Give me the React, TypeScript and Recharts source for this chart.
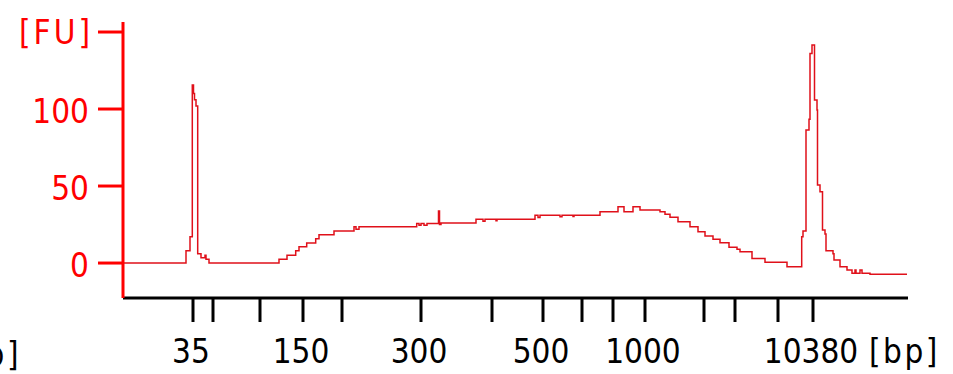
import React from 'react';
import { LineChart, Line, XAxis, YAxis, Label } from 'recharts';

// ladder peaks: size (bp) and migration time (s)
const ladderBp = [35, 50, 100, 150, 200, 300, 400, 500, 600, 700, 1000, 2000, 3000, 7000, 10380];
const ladderTime = [42.0, 44.0, 48.7, 53.0, 56.9, 64.8, 71.9, 77.0, 80.9, 84.0, 87.2, 93.1, 96.2, 100.5, 104.0];
const labeledBp = [35, 150, 300, 500, 1000, 10380];

const fuTicks = [0, 50, 100, 150];

// electropherogram trace (migration time s, fluorescence FU)
const time = [
  35.0, 41.3, 41.7, 41.93, 42.05, 42.15, 42.3, 42.47, 42.8, 43.2, 43.3, 43.6,
  50.6, 51.4, 52.27, 52.6, 53.37, 54.27, 54.6, 56.1, 58.1, 58.3, 58.6,
  64.37, 64.6, 64.8, 65.1, 65.4, 66.55, 66.65, 66.8,
  70.3, 71.0, 71.2, 72.3, 72.4, 76.2, 76.5, 76.7, 78.7, 78.9, 80.0, 80.1,
  82.7, 84.5, 85.1, 86.0, 86.7, 88.7, 89.2, 89.7, 90.5, 91.7, 92.5, 93.2, 94.0,
  94.7, 95.6, 96.4, 96.7, 97.9, 99.2, 101.4,
  102.87, 103.0, 103.3, 103.6, 103.7, 103.9, 104.15, 104.4, 104.45, 104.7, 104.95, 105.2, 105.3,
  106.0, 106.1, 106.7, 107.4, 107.9, 108.2, 108.3, 108.7, 108.9, 109.7, 113.4,
];
const fu = [
  0, 8, 17, 115.6, 110, 106, 102, 6, 3.5, 5, 2.5, 0,
  2.5, 5, 8, 10.5, 13, 15.8, 18.4, 20.8, 23.6, 22, 23.6,
  25.7, 24.5, 25.7, 24.5, 25.7, 33.8, 25, 26,
  28.4, 27.2, 28.4, 27.5, 28.4, 31, 29.5, 31, 30, 31, 30.2, 31,
  33.3, 36.6, 33.3, 36.6, 34.5, 33.3, 31.6, 29.7, 26.8, 23.6, 20.3, 17.5, 15.4,
  13.2, 10.2, 9, 7.3, 3, 0.5, -2.4,
  17, 20.8, 86.4, 93.3, 136, 141.6, 105.8, 99.4, 50.6, 46.3, 21.4, 18.8, 8,
  6, 2, -2.4, -4.5, -6.7, -4.5, -6.7, -4.5, -6.7, -7.3, -7.3,
];

const data = time.map((t, i) => ({ t, fu: fu[i] }));

const FONT = '"DejaVu Sans Condensed", "DejaVu Sans", Verdana, sans-serif';
const FS = 33;
const textStyle = { fontStretch: 'condensed' as const };

const XTick = (props: any) => {
  const { x, y, payload } = props;
  const i = ladderTime.indexOf(payload.value);
  const bp = ladderBp[i];
  if (!labeledBp.includes(bp)) return <g />;
  const last = i === ladderTime.length - 1;
  return (
    <g>
      <text x={x - 2} y={y + 41} textAnchor="middle" fill="#000" fontSize={FS} fontFamily={FONT} style={textStyle}>
        {bp}
      </text>
      {last && (
        <text x={x + 56} y={y + 41} textAnchor="start" fill="#000" fontSize={FS} fontFamily={FONT} style={textStyle} letterSpacing={2.5}>
          [bp]
        </text>
      )}
    </g>
  );
};

const YTick = (props: any) => {
  const { x, y, payload } = props;
  const top = payload.value === 150;
  return (
    <text
      x={top ? x + 4 : x}
      y={y + (top ? 12 : 14)}
      textAnchor="end"
      fill="#ff0000"
      fontSize={FS}
      fontFamily={FONT}
      style={textStyle}
      letterSpacing={top ? 3 : 0}
    >
      {top ? '[FU]' : payload.value}
    </text>
  );
};

export default function App() {
  return (
    <div style={{ position: 'absolute', left: 0, top: 0, background: '#fff' }}>
      <LineChart width={953} height={374} data={data} margin={{ top: 22, right: 45, left: 0, bottom: 0 }}>
        <XAxis
          dataKey="t"
          type="number"
          domain={[35, 113.5]}
          allowDataOverflow
          ticks={ladderTime}
          interval={0}
          height={76}
          tickSize={24}
          tickMargin={0}
          axisLine={{ stroke: '#000', strokeWidth: 3 }}
          tickLine={{ stroke: '#000', strokeWidth: 3 }}
          tick={<XTick />}
        >
          <Label
            content={() => (
              <text x={21} y={366} textAnchor="end" fill="#000" fontSize={FS} fontFamily={FONT} style={textStyle} letterSpacing={2.5}>
                [bp]
              </text>
            )}
          />
        </XAxis>
        <YAxis
          type="number"
          domain={[-22.7, 156.5]}
          allowDataOverflow
          ticks={fuTicks}
          interval={0}
          width={123}
          tickSize={25}
          tickMargin={9}
          axisLine={{ stroke: '#ff0000', strokeWidth: 3 }}
          tickLine={{ stroke: '#ff0000', strokeWidth: 3 }}
          tick={<YTick />}
        />
        <Line
          type="stepAfter"
          dataKey="fu"
          stroke="#e0101a"
          strokeWidth={1.5}
          dot={false}
          isAnimationActive={false}
        />
      </LineChart>
    </div>
  );
}
